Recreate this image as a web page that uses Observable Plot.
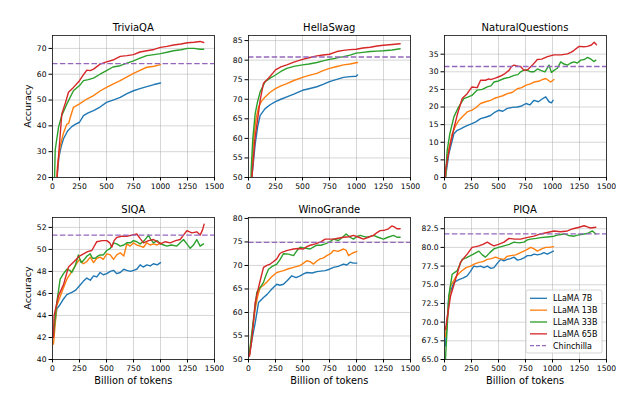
<!DOCTYPE html>
<html><head><meta charset="utf-8">
<script src="https://cdn.jsdelivr.net/npm/d3@7"></script>
<script src="https://cdn.jsdelivr.net/npm/@observablehq/plot@0.6"></script>
<style>
body{margin:0;background:#fff;}
#root{position:relative;width:635px;height:397px;overflow:hidden;font-family:"DejaVu Sans",sans-serif;}
#root svg{position:absolute;}
</style></head><body><div id="root"></div>
<script>
// ---------- DATA: [billion tokens, accuracy] ----------
const triviaqa7B = [[30,10],[45,22],[60,28],[80,32],[102,35],[140,38],[179,39.7],[210,40.6],[250,41.4],[287,44],[330,45],[380,45.9],[440,47.3],[500,49.1],[560,50],[627,51],[690,52.5],[750,53.6],[810,54.4],[873,55.2],[940,56],[1000,56.6]];
const triviaqa13B = [[30,10],[45,24],[70,32],[100,37],[133,40.7],[150,41],[170,44],[194,47.2],[250,48.5],[318,50.4],[380,51.7],[440,53.5],[500,54.9],[560,56.2],[627,57.5],[690,59],[750,60.3],[810,61.5],[873,62.7],[940,63.1],[1000,63.7]];
const triviaqa33B = [[15,12],[25,30.7],[56,39.5],[86,44],[133,48.5],[194,53.6],[250,55.6],[287,57.5],[330,57.9],[380,58.5],[440,60],[500,61.4],[560,62.8],[627,63.3],[690,64.3],[750,65.2],[810,66.2],[873,67.2],[940,67.6],[1000,68],[1060,68.5],[1120,69.1],[1190,69.5],[1250,70],[1310,70],[1367,69.7],[1400,69.7]];
const triviaqa65B = [[30,10],[50,25],[86,44.6],[120,49],[148,53],[194,54.9],[250,57.5],[290,60],[318,61.6],[350,61.4],[380,62],[441,63.9],[500,64.8],[560,65.5],[627,66.9],[690,67.2],[750,67.6],[810,68.6],[873,69.1],[940,69.6],[1000,70.4],[1060,70.8],[1120,71.3],[1190,71.7],[1250,72.2],[1310,72.4],[1367,72.7],[1400,72.3]];

const hellaswag7B = [[20,40],[31,50],[62,58.6],[85,63],[108,65.9],[154,67.6],[200,68.6],[250,69.4],[300,70],[355,70.6],[420,71.3],[500,72.3],[560,72.7],[633,73.2],[690,73.8],[750,74.5],[810,75],[880,75.6],[940,75.8],[997,75.9],[1009,76.2]];
const hellaswag13B = [[20,40],[30,50],[46,59.5],[70,65],[93,68],[120,69.5],[154,70.6],[200,71.8],[250,72.7],[300,73.4],[355,74],[420,74.8],[500,75.6],[560,76.1],[633,76.6],[690,77.3],[750,77.9],[810,78.3],[880,78.8],[940,79],[1009,79.4]];
const hellaswag33B = [[15,40],[25,52],[40,60],[62,66.3],[85,69.5],[108,71.9],[154,74.5],[200,75.4],[250,76.2],[300,77.1],[355,77.9],[420,78.4],[500,78.8],[560,79],[633,79.4],[690,79.8],[750,80.2],[810,80.5],[880,80.9],[940,81.3],[997,81.8],[1060,82],[1127,82.2],[1190,82.3],[1250,82.4],[1330,82.6],[1404,82.9]];
const hellaswag65B = [[20,40],[31,50],[60,60],[85,65],[108,69.8],[139,74.1],[185,75.4],[220,76.5],[250,77.5],[300,78.3],[355,78.8],[420,79.5],[500,80.2],[560,80.6],[633,81.1],[690,81.3],[750,81.5],[818,82.2],[880,82.5],[940,82.7],[997,82.8],[1060,83.1],[1127,83.3],[1190,83.6],[1250,83.8],[1330,84],[1404,84.2]];

const nq7B = [[9,0],[40,6.7],[87,12.4],[118,13.4],[150,13.8],[179,14.3],[215,14.8],[254,15.3],[290,15.8],[334,16.7],[380,17.1],[427,17.6],[465,18.5],[504,19.1],[540,18.8],[581,19.6],[630,19.9],[674,20],[715,20.3],[755,21],[790,20.6],[829,21.9],[870,21.5],[900,22.2],[937,22.9],[968,21.5],[990,21.2],[1005,21.9]];
const nq13B = [[9,0],[25,5.8],[71,12.4],[100,14.5],[133,16.2],[170,17.4],[210,18.6],[254,19.1],[290,19.8],[334,21],[380,21.5],[427,21.9],[465,22.5],[504,22.9],[540,23.2],[581,23.8],[630,24.2],[674,25.2],[715,25.5],[755,26.2],[790,26.5],[829,27.1],[870,27.3],[900,27.7],[937,28.1],[983,27.1],[1014,27.8]];
const nq33B = [[9,0],[25,7.7],[50,12.5],[87,17.2],[130,20],[179,22.4],[215,22.8],[254,23.3],[303,24.8],[350,25],[396,25.7],[430,26],[458,27.1],[500,27.4],[551,28.1],[600,28.4],[643,29],[680,29.2],[705,30],[736,30.5],[767,30.4],[800,30],[829,30],[860,30.8],[891,30.4],[930,30],[968,31.9],[990,29.8],[1014,30.4],[1045,31],[1076,32.8],[1107,32.2],[1138,31.9],[1170,32.5],[1200,32.8],[1230,32.5],[1262,33.3],[1295,33.5],[1324,34.1],[1360,33.5],[1385,32.9],[1401,33.3]];
const nq65B = [[5,0],[9,2],[50,9],[87,13.9],[120,18],[164,22.4],[210,23.8],[254,25.7],[303,25.5],[334,27.6],[380,27.6],[410,28],[427,27.8],[470,28.2],[520,28.8],[560,29.5],[597,30.4],[620,31.5],[643,31.9],[680,31.6],[705,31.5],[736,30.4],[770,30.6],[814,31.9],[860,33.5],[900,33.6],[953,34.3],[1014,34.8],[1080,34.8],[1138,35.1],[1170,35.5],[1200,36.1],[1246,37.2],[1290,37.1],[1324,37.2],[1360,37.6],[1386,38.4],[1407,37.7]];

const siqa7B = [[9,42.4],[40,44.6],[71,45],[102,45.5],[133,45.9],[179,46.1],[215,46.3],[250,46.7],[285,47.1],[318,47.4],[350,47.2],[380,47.6],[410,47.5],[441,47.9],[470,47.7],[503,47.8],[535,48],[565,48.1],[595,47.8],[627,47.9],[660,48.2],[688,48.1],[720,48],[750,48.1],[780,48.2],[812,48.6],[840,48.4],[873,48.6],[905,48.5],[935,48.7],[970,48.6],[1000,48.8]];
const siqa13B = [[9,41.4],[40,44.9],[86,46.1],[133,47.3],[179,48],[215,48.6],[250,49.1],[285,48.7],[318,48.9],[350,49.3],[380,48.8],[410,49.2],[441,49.3],[470,49.1],[503,49.6],[535,49.5],[565,49.1],[595,49.5],[627,49.7],[660,49.4],[688,50.5],[720,50.3],[750,50.6],[780,50.4],[812,50.3],[843,50.2],[873,50.6],[905,50.4],[935,50.5],[970,50.4],[1000,50.6]];
const siqa33B = [[9,42.2],[40,45.2],[71,47.3],[102,47.8],[133,48.2],[160,48.1],[179,47.9],[210,48.5],[240,49.5],[265,48.8],[287,49],[320,49.4],[349,49.6],[370,49.2],[395,49.2],[420,49.4],[441,49.5],[470,49.5],[503,49.9],[535,50.1],[565,50.6],[595,50.5],[627,50.3],[660,50.4],[688,50.6],[720,50.6],[750,50.8],[780,50.7],[812,50.5],[850,50.8],[889,51.3],[910,50.9],[935,50.6],[970,50.8],[1000,50.5],[1030,50.4],[1059,50.3],[1100,50.4],[1151,50.3],[1182,50.6],[1213,50.9],[1244,50.5],[1275,50.1],[1305,50.4],[1336,50.9],[1367,50.3],[1398,50.5]];
const siqa65B = [[9,42],[15,44],[56,45.8],[102,46.8],[148,48.4],[210,49],[250,49.4],[287,49.6],[325,49.8],[364,49.9],[410,50.7],[460,50.8],[503,50.8],[530,50.6],[549,50.2],[570,50.8],[596,51.1],[640,51.2],[688,51.2],[735,51.3],[781,51.4],[810,51],[843,50.6],[890,50.8],[935,50.9],[970,50.7],[1000,50.5],[1045,50.7],[1090,50.6],[1140,50.8],[1182,50.9],[1213,51.3],[1244,51.7],[1290,51.5],[1336,51.6],[1367,51.3],[1390,51.8],[1404,52.3]];

const wino7B = [[9,51],[30,54],[62,57.8],[93,62.1],[139,63.2],[170,63.8],[201,64.6],[230,65.3],[262,66],[290,65.8],[324,66],[360,66.8],[401,67.8],[440,67.4],[478,67.8],[510,68.2],[540,68.5],[590,68.4],[633,68.7],[670,68.8],[710,68.9],[750,69.2],[787,69.6],[830,69.8],[880,70.3],[910,70.1],[941,70.7],[970,70.5],[1003,70.5]];
const wino13B = [[9,51],[30,55],[62,60.7],[85,63.5],[108,65.3],[139,65.8],[170,66.5],[215,67.6],[262,68.5],[290,68.7],[324,68.9],[370,69.3],[417,69.6],[450,69.8],[478,70],[510,70.5],[540,71],[570,70.8],[602,70.3],[635,71],[664,71.4],[695,71.6],[725,72.1],[760,72.5],[787,73.2],[830,73],[880,73.5],[905,73.2],[926,72.1],[960,72.6],[1003,73]];
const wino33B = [[9,51.4],[46,58.6],[77,64.3],[105,65.2],[139,66.4],[160,67.8],[185,69.2],[220,69.8],[262,70.3],[290,71.2],[324,72.5],[370,72.4],[417,72.1],[450,73.2],[478,73.9],[520,73.7],[571,73.5],[600,73.9],[633,74.3],[670,74.3],[710,74.6],[750,75],[787,75.6],[833,75.3],[870,76],[904,76.7],[940,76],[972,75.6],[1000,76.1],[1034,76.4],[1065,76.2],[1096,76],[1127,76.2],[1157,76.4],[1200,76],[1250,75.6],[1290,76],[1343,76.4],[1375,76],[1404,76]];
const wino65B = [[9,50.7],[30,54],[62,62.1],[100,66],[139,69.6],[170,70],[201,70.3],[230,70.8],[262,71.4],[290,72.5],[309,72.8],[360,73.2],[417,73.5],[460,73.6],[509,73.5],[540,74],[571,74.3],[620,74.6],[670,75],[710,75.6],[750,75.6],[787,75.6],[830,75.8],[880,76],[930,76.1],[972,76.4],[1020,76],[1065,75.6],[1110,76],[1157,76.4],[1190,77],[1219,77.4],[1260,77.5],[1296,77.8],[1327,78.4],[1350,78.2],[1373,77.8],[1404,77.8]];

const piqa7B = [[9,66.8],[40,73.5],[87,75.3],[133,75.7],[170,75.9],[210,76.2],[240,76.8],[272,77.5],[300,77.4],[334,77.5],[365,77.3],[396,77.5],[430,77.2],[458,77.3],[490,77.9],[520,78.4],[550,78.2],[581,78.4],[612,78.5],[643,78.7],[675,78.3],[705,78.4],[736,78.6],[767,78.9],[800,78.9],[829,79.1],[860,79],[891,79.1],[920,79.3],[952,79.1],[980,79.3],[1008,79.5]];
const piqa13B = [[9,68.1],[56,74.8],[102,76],[133,76.5],[164,76.9],[200,77.3],[241,77.5],[280,77.8],[318,78],[356,78.1],[396,78.4],[435,78.5],[473,78.7],[510,78.5],[551,78.4],[580,78.8],[612,78.9],[660,79],[705,79.3],[750,79.6],[798,80],[830,79.8],[860,79.5],[900,79.8],[937,80],[970,80],[1008,80.1]];
const piqa33B = [[5,62],[9,65],[40,73.5],[71,76.4],[118,76.9],[164,78.4],[200,78.6],[241,78.9],[280,79.2],[318,79.5],[350,79],[380,78.7],[420,79.3],[458,79.8],[500,80],[551,80.2],[600,80.4],[643,80.7],[690,80.6],[736,80.7],[767,81],[798,81.1],[850,81.2],[891,81.3],[950,81.4],[1014,81.5],[1060,81.7],[1107,81.8],[1150,81.6],[1200,81.5],[1250,81.7],[1293,81.8],[1330,81.9],[1370,82.2],[1401,81.8]];
const piqa65B = [[9,69],[56,73.5],[102,75.7],[148,78],[180,78.6],[210,79.1],[256,80],[290,80.1],[318,80.2],[356,80.4],[396,80.7],[430,80.4],[458,80.2],[500,80.4],[551,80.7],[597,81.2],[650,81.1],[705,81.1],[760,81.3],[829,81.5],[890,81.8],[952,82],[1014,82.2],[1075,82.1],[1138,82.2],[1190,82.5],[1246,82.7],[1293,82.9],[1330,82.7],[1355,82.6],[1401,82.7]];

const models = ["LLaMA 7B","LLaMA 13B","LLaMA 33B","LLaMA 65B"];
const benchmarks = ["TriviaQA","HellaSwag","NaturalQuestions","SIQA","WinoGrande","PIQA"];
const chinchilla = [64.1, 80.8, 31.5, 51.3, 74.9, 81.8];
const xTicks = [0,250,500,750,1000,1250,1500];
const yTicksTriviaQA = [20,30,40,50,60,70];
const yTicksHellaSwag = [50,55,60,65,70,75,80,85];
const yTicksNQ = [0,5,10,15,20,25,30,35];
const yTicksSIQA = [40,42,44,46,48,50,52];
const yTicksWino = [50,55,60,65,70,75,80];
const yTicksPIQA = [65,67.5,70,72.5,75,77.5,80,82.5];

// ---------- STYLE / LAYOUT ----------
const colors = ["#1f77b4","#ff7f0e","#2ca02c","#d62728"];
const chinColor = "#9467bd";
const series = [
  [triviaqa7B,triviaqa13B,triviaqa33B,triviaqa65B],
  [hellaswag7B,hellaswag13B,hellaswag33B,hellaswag65B],
  [nq7B,nq13B,nq33B,nq65B],
  [siqa7B,siqa13B,siqa33B,siqa65B],
  [wino7B,wino13B,wino33B,wino65B],
  [piqa7B,piqa13B,piqa33B,piqa65B]
];
const yTicks = [yTicksTriviaQA,yTicksHellaSwag,yTicksNQ,yTicksSIQA,yTicksWino,yTicksPIQA];
const yDomains = [[20,75],[50,86.3],[0,40.3],[40,52.9],[50,80.2],[65,84]];
const yFormats = [d=>d,d=>d,d=>d,d=>d,d=>d,d3.format(".1f")];

const frameLefts = [52.3, 248.3, 444];
const frameTops = [35, 217];
const fw = 162, fh = 142;
const ml = 34, mr = 8, mt = 6, mb = 20;

const root = document.getElementById("root");

benchmarks.forEach((name, i) => {
  const col = i % 3, row = Math.floor(i / 3);
  const marks = [
    Plot.ruleX(xTicks, {stroke:"#b0b0b0", strokeOpacity:0.65, strokeWidth:0.8}),
    Plot.ruleY(yTicks[i], {stroke:"#b0b0b0", strokeOpacity:0.65, strokeWidth:0.8}),
  ];
  series[i].forEach((s, m) => {
    marks.push(Plot.line(s, {x: d=>d[0], y: d=>d[1], stroke: colors[m], strokeWidth: 1.4, clip: true}));
  });
  marks.push(Plot.ruleY([chinchilla[i]], {stroke: chinColor, strokeWidth: 1.3, strokeDasharray: "5.5,2.4"}));
  marks.push(Plot.frame({stroke:"#111", strokeWidth:0.8}));
  marks.push(Plot.axisX({ticks: xTicks, tickSize:3.5, tickPadding:2.5, label:null, anchor:"bottom", tickFormat: d => String(d)}));
  marks.push(Plot.axisY({ticks: yTicks[i], tickSize:3.5, tickPadding:2.5, label:null, anchor:"left", tickFormat: yFormats[i]}));
  const p = Plot.plot({
    width: ml + fw + mr, height: mt + fh + mb,
    marginLeft: ml, marginRight: mr, marginTop: mt, marginBottom: mb,
    x: {domain: [0,1500]},
    y: {domain: yDomains[i]},
    style: {fontFamily: "DejaVu Sans", fontSize: "7.6px", color: "black", background: "transparent", overflow: "visible"},
    marks
  });
  p.style.position = "absolute";
  p.style.left = (frameLefts[col] - ml) + "px";
  p.style.top = (frameTops[row] - mt) + "px";
  p.style.maxWidth = "none";
  root.appendChild(p);
});

// ---------- overlay texts & legend ----------
const ov = d3.create("svg").attr("width",635).attr("height",397)
  .style("left","0px").style("top","0px").style("font-family","DejaVu Sans");
benchmarks.forEach((name, i) => {
  const col = i % 3, row = Math.floor(i / 3);
  ov.append("text").attr("x", frameLefts[col] + fw/2).attr("y", frameTops[row] - 4)
    .attr("text-anchor","middle").attr("font-size","10px").attr("fill","black").text(name);
  if (col === 0) {
    const cy = frameTops[row] + fh/2;
    ov.append("text").attr("transform", `translate(30.5,${cy}) rotate(-90)`)
      .attr("text-anchor","middle").attr("font-size","9.5px").attr("fill","black").text("Accuracy");
  }
  if (row === 1) {
    ov.append("text").attr("x", frameLefts[col] + fw/2).attr("y", 384)
      .attr("text-anchor","middle").attr("font-size","9.8px").attr("fill","black").text("Billion of tokens");
  }
});
const lg = ov.append("g");
lg.append("rect").attr("x",526).attr("y",290).attr("width",76).attr("height",63).attr("rx",2)
  .attr("fill","white").attr("fill-opacity",0.8).attr("stroke","#cccccc").attr("stroke-width",0.8);
const legendLabels = models.concat(["Chinchilla"]);
const legendColors = colors.concat([chinColor]);
legendLabels.forEach((lab, k) => {
  const y = 298.3 + k * 11.85;
  lg.append("line").attr("x1",530).attr("x2",547).attr("y1",y).attr("y2",y)
    .attr("stroke",legendColors[k]).attr("stroke-width",1.3)
    .attr("stroke-dasharray", k === 4 ? "4,2" : null);
  lg.append("text").attr("x",553).attr("y",y + 2.9).attr("font-size","8px").attr("fill","black").text(lab);
});
root.appendChild(ov.node());
</script></body></html>
